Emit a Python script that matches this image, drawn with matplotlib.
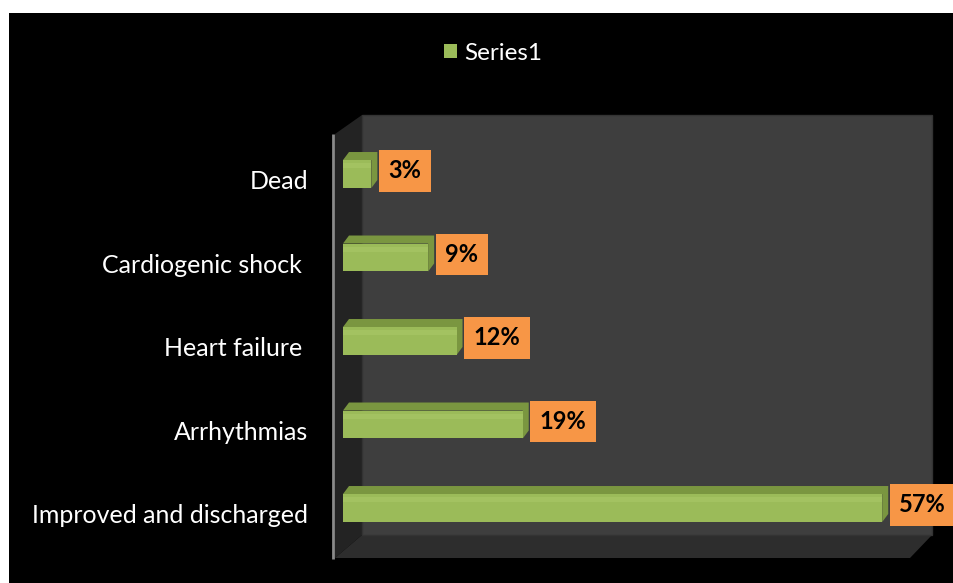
import matplotlib
matplotlib.use("Agg")
import matplotlib.pyplot as plt
from matplotlib.patches import Polygon, Rectangle
from matplotlib.transforms import ScaledTranslation

plt.rcParams['font.family'] = ['Lato', 'DejaVu Sans']

categories = ["Improved and discharged", "Arrhythmias", "Heart failure ",
              "Cardiogenic shock ", "Dead"]
values = [57, 19, 12, 9, 3]
series_name = "Series1"

W, H = 954, 583
fig = plt.figure(figsize=(W / 100, H / 100), dpi=100)
fig.patch.set_facecolor("white")

# background: black panel + fake 3D walls, in pixel coords
bg = fig.add_axes([0, 0, 1, 1])
bg.set_xlim(0, W)
bg.set_ylim(H, 0)
bg.axis("off")
bg.add_patch(Rectangle((9, 13), W - 9, H - 13, fc="black", ec="none"))
bg.add_patch(Polygon([(335, 134), (362, 115), (362, 535), (335, 558)],
                     closed=True, fc="#232323", ec="none"))
bg.add_patch(Polygon([(335, 558), (362, 535), (932, 535), (910, 558)],
                     closed=True, fc="#2d2d2d", ec="none"))
bg.add_patch(Rectangle((362, 115), 570, 420, fc="#3e3e3e", ec="#333333", lw=1))
bg.plot([333, 333], [134, 559], color="#8a8a8a", lw=2, solid_capstyle="butt")

# main axes: x=0 at pixel 343, 9.46 px per percent, 83.5 px per category
px_per = 9.46
py_per = 83.5
left_px, right_px = 343, 932
top_px, bot_px = 130, 550
ax = fig.add_axes([left_px / W, (H - bot_px) / H,
                   (right_px - left_px) / W, (bot_px - top_px) / H])
ax.set_facecolor("none")
ax.set_xlim(0, (right_px - left_px) / px_per)
ax.set_ylim(-0.503, -0.503 + (bot_px - top_px) / py_per)
for s in ax.spines.values():
    s.set_visible(False)

ypos = list(range(len(categories)))
bh = 0.335
dx, dy = 6 / px_per, 8 / py_per   # depth of the fake 3D box

# top + right faces of each bar
for y, v in zip(ypos, values):
    top, bot = y + bh / 2, y - bh / 2
    ax.add_patch(Polygon([(0, top), (dx, top + dy), (v + dx, top + dy),
                          (v + dx, bot + dy), (v, bot), (v, top)],
                         closed=True, fc="#7A9640", ec="none", zorder=2))
front = ax.barh(ypos, values, height=bh, color="#9BBB59", zorder=3)
# soft highlight near the top of the front face
ax.barh([y + bh / 2 - 0.07 for y in ypos], values, height=0.06,
        color="#A3C261", zorder=4)

ax.set_yticks(ypos)
ax.set_yticklabels(categories, color="white", fontsize=18)
ax.tick_params(axis="y", length=0, pad=25)
ax.set_xticks([])
for lab in ax.get_yticklabels():
    lab.set_transform(lab.get_transform() + ScaledTranslation(0, -6 / 100, fig.dpi_scale_trans))

for y, v in zip(ypos, values):
    ax.annotate(f"{v}%", xy=(v, y), xytext=(17, 3), textcoords="offset pixels",
                ha="left", va="center", fontsize=17, fontweight="bold",
                color="black", zorder=5,
                bbox=dict(boxstyle="square,pad=0.4", fc="#F79646", ec="none"))

fig.legend(handles=[front], labels=[series_name], loc="center",
           bbox_to_anchor=(493 / W, 1 - 53 / H), frameon=False,
           labelcolor="white", fontsize=17.5, handlelength=0.55,
           handleheight=0.55, handletextpad=0.3)

fig.savefig("out.png", dpi=100, facecolor=fig.get_facecolor())
